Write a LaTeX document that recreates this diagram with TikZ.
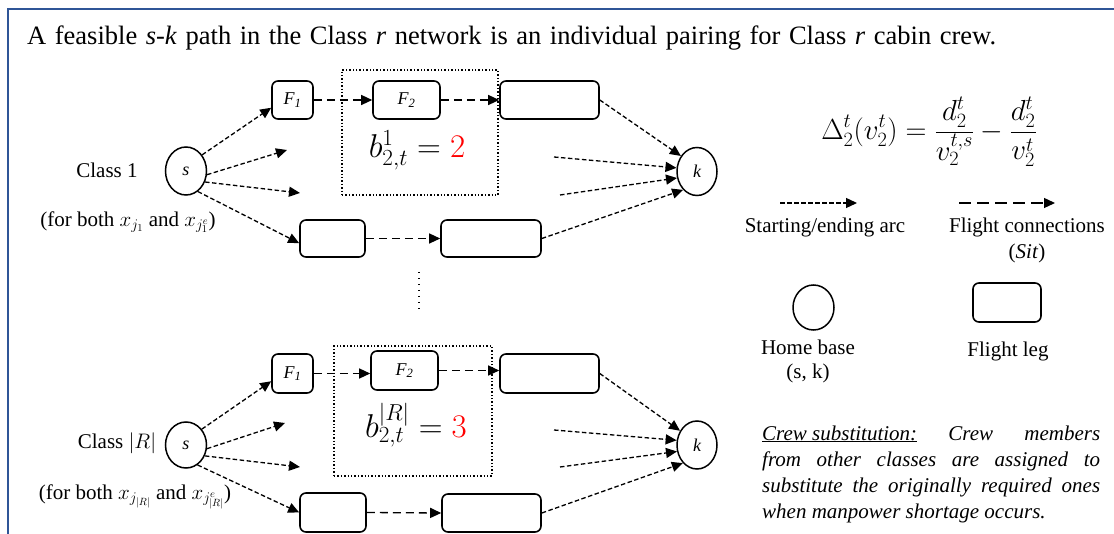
\RequirePackage{fix-cm}
\documentclass[tikz,border=0pt]{standalone}
\usepackage{fontspec}
\setmainfont{Liberation Serif}
\usetikzlibrary{arrows.meta,shapes.geometric,calc}
\definecolor{framec}{RGB}{47,85,151}
\begin{document}
\begin{tikzpicture}[x=1pt,y=-1pt,
  homebase/.style={draw, line width=1.5pt, ellipse, minimum width=41pt, minimum height=48pt, inner sep=0pt, font=\fontsize{18}{20}\selectfont\itshape},
  legbox/.style={draw, line width=1.6pt, rounded corners=6pt, inner sep=0pt, font=\fontsize{18}{20}\selectfont\itshape},
  startarc/.style={-{Triangle[length=11pt,width=10pt]}, line width=1.3pt, dash pattern=on 4.5pt off 2.5pt},
  flightconn/.style={-{Triangle[length=11pt,width=10pt]}, line width=1.3pt, dash pattern=on 8pt off 5pt},
  window/.style={draw, line width=1.4pt, dash pattern=on 1.4pt off 2pt, inner sep=0pt},
  lbl/.style={font=\fontsize{21}{25}\selectfont, inner sep=0pt},
  para/.style={font=\fontsize{21}{26}\selectfont\itshape, inner sep=0pt, anchor=base west},
  bigeq/.style={font=\fontsize{33}{38}\selectfont, inner sep=0pt}
]
\useasboundingbox (0,0) rectangle (1114,534);
\draw[framec, line width=2.5pt] (8,540) -- (8,9) -- (1120,9);

\node[lbl, anchor=base west, font=\fontsize{26.5}{30}\selectfont] (title) at (27,45)
  {\makebox[969pt][s]{A feasible \textit{s}-\textit{k} path in the Class \textit{r} network is an individual pairing for Class \textit{r} cabin crew.}};

% ---------- Class 1 network ----------
\node[window, minimum width=156pt, minimum height=125pt] (win1) at (420,132.5) {};
\node[homebase] (s1) at (186,171) {s};
\node[homebase, minimum width=40pt] (k1) at (697,171.5) {k};
\node[legbox, minimum width=41pt, minimum height=38pt] (f1a) at (292.5,100) {F\textsubscript{1}};
\node[legbox, minimum width=67pt, minimum height=38pt] (f2a) at (406.5,100) {F\textsubscript{2}};
\node[legbox, minimum width=99pt, minimum height=38pt] (g3a) at (549.5,100) {};
\node[legbox, minimum width=65pt, minimum height=37pt] (baa) at (332.5,238.5) {};
\node[legbox, minimum width=100pt, minimum height=37pt] (bba) at (491,238.5) {};
\node[bigeq] (eq1) at (417,150) {$b^{1}_{2,t} = \textcolor{red}{2}$};
\node[lbl] (cl1) at (107,170) {Class 1};
\node[lbl] (fb1) at (128,222) {(for both $x_{j_1}$ and $x_{j_1^e}$)};

\coordinate (a1) at (287,150);
\coordinate (a2) at (300,193);
\coordinate (a3) at (554,157);
\coordinate (a4) at (560,195);

\draw[startarc] (s1.45) -- (f1a.200);
\draw[startarc] (s1.-10) -- (a1);
\draw[startarc] (s1.-30) -- (a2);
\draw[startarc] (s1.-60) -- (baa.188);
\draw[flightconn] (f1a.east) -- (f2a.west);
\draw[flightconn] (f2a.east) -- (g3a.west);
\draw[flightconn] (baa.east) -- (bba.west);
\draw[startarc] (g3a.east) -- (k1.136);
\draw[startarc] (a3) -- (k1.170);
\draw[startarc] (a4) -- (k1.198);
\draw[startarc] (bba.east) -- (k1.233);

% vertical dots
\coordinate (vd1) at (419,272);
\coordinate (vd2) at (419,310);
\draw[line width=2pt, dash pattern=on 1.5pt off 4.5pt] (vd1) -- (vd2);

% ---------- Class |R| network ----------
\node[window, minimum width=158pt, minimum height=130pt] (win2) at (413,411) {};
\node[homebase, minimum height=46pt] (s2) at (186,445) {s};
\node[homebase, minimum width=40pt] (k2) at (697,445) {k};
\node[legbox, minimum width=41pt, minimum height=39pt] (f1b) at (292.5,373.5) {F\textsubscript{1}};
\node[legbox, minimum width=67pt, minimum height=39pt] (f2b) at (404.5,370.5) {F\textsubscript{2}};
\node[legbox, minimum width=99pt, minimum height=39pt] (g3b) at (549.5,373.5) {};
\node[legbox, minimum width=66pt, minimum height=39pt] (bab) at (333,512.5) {};
\node[legbox, minimum width=99pt, minimum height=38pt] (bbb) at (491.5,513) {};
\node[bigeq] (eq2) at (416,425) {$b^{|R|}_{2,t} = \textcolor{red}{3}$};
\node[lbl] (cl2) at (117,443) {Class $|R|$};
\node[lbl] (fb2) at (135,497) {(for both $x_{j_{|R|}}$ and $x_{j^e_{|R|}}$)};

\coordinate (b1) at (285,423);
\coordinate (b2) at (300,467);
\coordinate (b3) at (554,430);
\coordinate (b4) at (560,467);

\draw[startarc] (s2.45) -- (f1b.200);
\draw[startarc] (s2.-10) -- (b1);
\draw[startarc] (s2.-30) -- (b2);
\draw[startarc] (s2.-60) -- (bab.west);
\draw[flightconn] (f1b.east) -- (f1b.east -| f2b.west);
\draw[flightconn] (f2b.east) -- (f2b.east -| g3b.west);
\draw[flightconn] (bab.east) -- (bbb.west);
\draw[startarc] (g3b.east) -- (k2.140);
\draw[startarc] (b3) -- (k2.167);
\draw[startarc] (b4) -- (k2.198);
\draw[startarc] (bbb.east) -- (k2.232);

% ---------- Legend ----------
\node[inner sep=0pt, font=\fontsize{29}{34}\selectfont] (deq) at (929,132)
  {$\displaystyle\Delta_2^t(v_2^t)=\frac{d_2^t}{v_2^{t,s}}-\frac{d_2^t}{v_2^t}$};
\coordinate (la1) at (780,203);
\coordinate (la2) at (857,203);
\coordinate (lb1) at (959,203);
\coordinate (lb2) at (1055,203);
\draw[startarc] (la1) -- (la2);
\draw[flightconn, dash pattern=on 12pt off 6pt] (lb1) -- (lb2);
\node[lbl] (lt1) at (825,227) {Starting/ending arc};
\node[lbl] (lt2) at (1027,227) {Flight connections};
\node[lbl] (lt3) at (1027,253) {(\textit{Sit})};
\node[homebase, minimum height=45pt] (lhb) at (813.5,307.5) {};
\node[legbox, minimum width=68pt, minimum height=39pt] (lfl) at (1007,302.5) {};
\node[lbl] (lt4) at (808,347) {Home base};
\node[lbl] (lt5) at (808,373) {(s, k)};
\node[lbl] (lt6) at (1008,351) {Flight leg};

\node[para] (p1) at (762,440) {\makebox[338pt][s]{\underline{Crew substitution:} Crew members}};
\node[para] (p2) at (762,466) {\makebox[338pt][s]{from other classes are assigned to}};
\node[para] (p3) at (762,492) {\makebox[338pt][s]{substitute the originally required ones}};
\node[para] (p4) at (762,518) {when manpower shortage occurs.};
\end{tikzpicture}
\end{document}
